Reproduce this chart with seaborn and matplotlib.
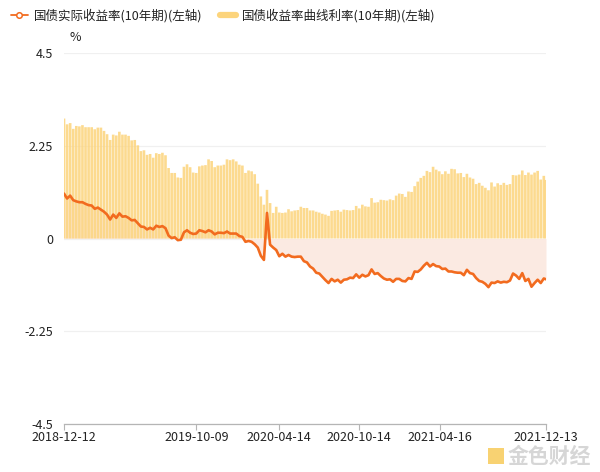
import numpy as np
import pandas as pd
import matplotlib
matplotlib.use("Agg")
import matplotlib.pyplot as plt
import matplotlib.dates as mdates
from matplotlib.lines import Line2D
from matplotlib.patches import Rectangle
import seaborn as sns

# ---------------- data (weekly readings, %) ----------------
nominal_yield = [
    2.91, 2.77, 2.80, 2.66, 2.73, 2.72, 2.75, 2.70, 2.70, 2.70, 2.65, 2.69, 2.69, 2.61, 2.53, 2.39,
    2.52, 2.50, 2.59, 2.52, 2.52, 2.49, 2.38, 2.39, 2.26, 2.12, 2.14, 2.03, 2.05, 1.96, 2.07, 2.05,
    2.08, 2.02, 1.71, 1.59, 1.59, 1.48, 1.47, 1.74, 1.80, 1.73, 1.60, 1.59, 1.75, 1.77, 1.78, 1.92,
    1.88, 1.73, 1.77, 1.77, 1.79, 1.92, 1.90, 1.92, 1.87, 1.79, 1.77, 1.59, 1.65, 1.63, 1.56, 1.33,
    1.02, 0.82, 1.18, 0.86, 0.62, 0.77, 0.63, 0.62, 0.63, 0.71, 0.66, 0.68, 0.69, 0.77, 0.74, 0.74,
    0.68, 0.68, 0.65, 0.63, 0.60, 0.58, 0.55, 0.67, 0.68, 0.69, 0.65, 0.70, 0.69, 0.68, 0.69, 0.79,
    0.73, 0.82, 0.78, 0.77, 0.98, 0.87, 0.88, 0.94, 0.93, 0.92, 0.95, 0.93, 1.04, 1.09, 1.08, 1.01,
    1.14, 1.13, 1.27, 1.38, 1.47, 1.52, 1.64, 1.61, 1.74, 1.67, 1.63, 1.56, 1.63, 1.57, 1.69, 1.68,
    1.58, 1.59, 1.49, 1.57, 1.48, 1.45, 1.32, 1.35, 1.28, 1.23, 1.17, 1.36, 1.26, 1.34, 1.30, 1.35,
    1.30, 1.32, 1.54, 1.53, 1.55, 1.65, 1.54, 1.60, 1.55, 1.60, 1.64, 1.43, 1.52, 1.42,
]
real_yield = [
    1.09, 0.97, 1.04, 0.93, 0.90, 0.88, 0.88, 0.84, 0.81, 0.80, 0.72, 0.75, 0.70, 0.65, 0.58, 0.46,
    0.58, 0.50, 0.61, 0.53, 0.54, 0.50, 0.44, 0.45, 0.37, 0.29, 0.28, 0.22, 0.26, 0.22, 0.31, 0.28,
    0.30, 0.25, 0.07, 0.01, 0.03, -0.04, -0.03, 0.15, 0.20, 0.14, 0.11, 0.12, 0.20, 0.18, 0.15, 0.20,
    0.17, 0.10, 0.14, 0.14, 0.13, 0.17, 0.12, 0.12, 0.12, 0.06, 0.04, -0.08, -0.06, -0.08, -0.14, -0.22,
    -0.42, -0.52, 0.62, -0.15, -0.22, -0.28, -0.43, -0.37, -0.44, -0.40, -0.44, -0.45, -0.44, -0.44, -0.55, -0.58,
    -0.68, -0.73, -0.83, -0.85, -0.93, -1.01, -1.08, -0.98, -1.04, -1.00, -1.07, -1.00, -0.99, -0.95, -0.96, -0.87,
    -0.95, -0.88, -0.92, -0.89, -0.75, -0.86, -0.84, -0.91, -0.97, -1.00, -0.99, -1.05, -0.98, -0.98, -1.03, -1.04,
    -0.96, -0.98, -0.80, -0.81, -0.75, -0.66, -0.59, -0.68, -0.62, -0.67, -0.68, -0.74, -0.73, -0.80, -0.80, -0.82,
    -0.83, -0.83, -0.89, -0.76, -0.84, -0.86, -0.96, -1.03, -1.05, -1.10, -1.18, -1.07, -1.08, -1.04, -1.07, -1.05,
    -1.06, -1.02, -0.85, -0.90, -0.98, -0.84, -1.03, -0.98, -1.17, -1.08, -1.00, -1.08, -0.97, -0.99,
]
dates = list(pd.date_range("2018-12-12", "2021-12-08", freq="W-WED")) + [pd.Timestamp("2021-12-13")]
tick_labels = ["2018-12-12", "2019-10-09", "2020-04-14", "2020-10-14", "2021-04-16", "2021-12-13"]
y_ticks = [-4.5, -2.25, 0, 2.25, 4.5]
series_names = ["国债实际收益率(10年期)(左轴)", "国债收益率曲线利率(10年期)(左轴)"]

df = pd.DataFrame({"date": dates, "nominal": nominal_yield, "real": real_yield})

# ---------------- style ----------------
sns.set_theme(style="white")
plt.rcParams["font.family"] = ["Noto Sans CJK SC", "DejaVu Sans"]
plt.rcParams["axes.unicode_minus"] = False

ORANGE = "#f26b1f"
YELLOW = "#fcd47c"
PINK = "#fbe8df"

fig = plt.figure(figsize=(6.0, 4.72), dpi=100)
ax = fig.add_axes([64 / 600, 1 - 424 / 472, (546 - 64) / 600, (424 - 53) / 472])

# light pink area between 0 and the real-yield line
ax.fill_between(df["date"], df["real"], 0, color=PINK, alpha=0.9, linewidth=0, zorder=1)
# nominal yield bars
bars = ax.bar(df["date"], df["nominal"], width=6.0, color=YELLOW, alpha=0.85, linewidth=0, zorder=2)
for b in bars:
    b.set_snap(False)
# real yield line
sns.lineplot(data=df, x="date", y="real", ax=ax, color=ORANGE, linewidth=1.9, zorder=3, legend=False)

# axes
ax.set_ylim(-4.5, 4.5)
ax.set_yticks(y_ticks)
ax.set_yticklabels(["-4.5", "-2.25", "0", "2.25", "4.5"])
ax.set_xlim(pd.Timestamp("2018-12-12"), pd.Timestamp("2021-12-13"))
ax.set_xticks([pd.Timestamp(t) for t in tick_labels])
ax.set_xticklabels(tick_labels)
ax.set_xlabel("")
ax.set_ylabel("")
ax.grid(axis="y", color="#f0f0f0", linewidth=0.9, zorder=0)
ax.grid(axis="x", visible=False)
for s in ["top", "right", "left"]:
    ax.spines[s].set_visible(False)
ax.spines["bottom"].set_color("#b5b5b5")
ax.spines["bottom"].set_linewidth(0.9)
ax.tick_params(axis="x", which="both", bottom=True, length=4, width=0.8, color="#b5b5b5",
               labelsize=9, labelcolor="#222222", pad=1)
ax.tick_params(axis="y", length=0, labelsize=9, labelcolor="#222222", pad=8)

ax.text(0.012, 1.025, "%", transform=ax.transAxes, fontsize=9, color="#222222",
        ha="left", va="bottom")

# legend
handles = [
    Line2D([0], [0], color=ORANGE, linewidth=1.3, marker="o", markersize=4,
           markerfacecolor="white", markeredgecolor=ORANGE, markeredgewidth=1.1),
    Line2D([0], [0], color=YELLOW, linewidth=4.5, solid_capstyle="round"),
]
fig.legend(handles, series_names, loc="upper left", bbox_to_anchor=(0.0, 1.005), ncol=2,
           frameon=False, fontsize=9, handlelength=1.3, handletextpad=0.5, columnspacing=1.4,
           labelcolor="#222222")

# watermark
fig.patches.append(Rectangle((488 / 600, 1 - 464 / 472), 16 / 600, 16 / 472,
                             transform=fig.transFigure, facecolor="#f6c343", alpha=0.75,
                             edgecolor="none"))
fig.text(508 / 600, 1 - 456 / 472, "金色财经", fontsize=15, color="#d6d6d6",
         ha="left", va="center", fontweight="bold")

fig.savefig("out.png", dpi=100)
